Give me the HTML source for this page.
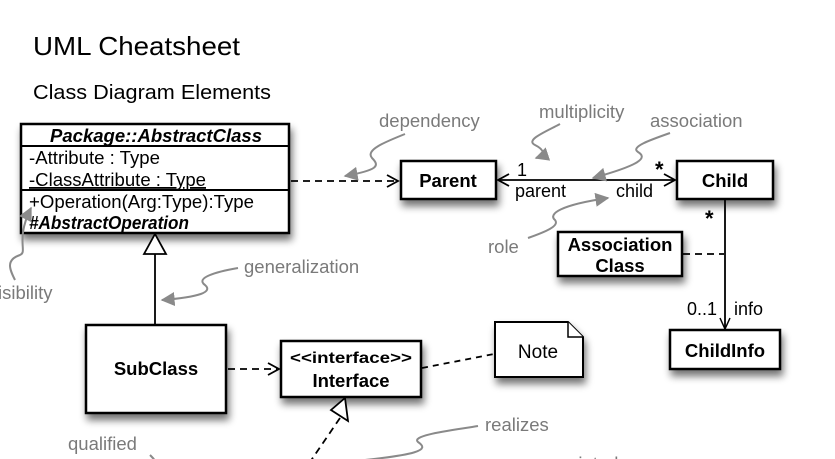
<!DOCTYPE html>
<html><head><meta charset="utf-8"><style>
html,body{margin:0;padding:0;background:#fff;width:835px;height:459px;overflow:hidden}
svg{display:block}
text{font-family:"Liberation Sans",Arial,sans-serif}
.g{fill:#7a7a7a;font-size:18.5px}
.b{font-weight:bold;font-size:18.5px;fill:#000}
.n{font-size:18px;fill:#000}
.box{fill:#fff;stroke:#000;stroke-width:2.5}
.sq{fill:none;stroke:#8a8a8a;stroke-width:2}
</style></head><body>
<svg width="835" height="459" viewBox="0 0 835 459" xmlns="http://www.w3.org/2000/svg">
<defs>
<filter id="sh" x="-20%" y="-20%" width="150%" height="160%">
<feGaussianBlur in="SourceAlpha" stdDeviation="4"/>
<feOffset dx="2" dy="6" result="o"/>
<feComponentTransfer><feFuncA type="linear" slope="0.55"/></feComponentTransfer>
<feMerge><feMergeNode/><feMergeNode in="SourceGraphic"/></feMerge>
</filter>
<marker id="ga" viewBox="0 0 10 10" refX="9" refY="5" markerWidth="7" markerHeight="7" orient="auto"><path d="M0,0 L10,5 L0,10 z" fill="#8a8a8a"/></marker>
</defs>
<rect width="835" height="459" fill="#fff"/>
<text x="33" y="55" font-size="26" textLength="207" lengthAdjust="spacingAndGlyphs">UML Cheatsheet</text>
<text x="33" y="99" font-size="20" textLength="238" lengthAdjust="spacingAndGlyphs">Class Diagram Elements</text>

<!-- Abstract class -->
<g filter="url(#sh)">
<rect class="box" x="21" y="124" width="268" height="109"/>
</g>
<line x1="21" y1="146" x2="289" y2="146" stroke="#000" stroke-width="2"/>
<line x1="21" y1="190" x2="289" y2="190" stroke="#000" stroke-width="2"/>
<text x="156" y="142" text-anchor="middle" font-size="18" font-weight="bold" font-style="italic" textLength="212" lengthAdjust="spacingAndGlyphs">Package::AbstractClass</text>
<text x="29" y="164" class="n" textLength="131" lengthAdjust="spacingAndGlyphs">-Attribute : Type</text>
<text x="29" y="186" class="n" text-decoration="underline" textLength="177" lengthAdjust="spacingAndGlyphs">-ClassAttribute : Type</text>
<text x="29" y="208" class="n" textLength="225" lengthAdjust="spacingAndGlyphs">+Operation(Arg:Type):Type</text>
<text x="29" y="229" class="n" font-style="italic" font-weight="bold" textLength="160" lengthAdjust="spacingAndGlyphs">#AbstractOperation</text>

<!-- dependency -->
<line x1="291" y1="181" x2="397" y2="181" stroke="#000" stroke-width="1.8" stroke-dasharray="7,5"/>
<path d="M387,175 L398,181 L387,187" fill="none" stroke="#000" stroke-width="1.8"/>

<!-- Parent / Child -->
<g filter="url(#sh)"><rect class="box" x="401" y="161" width="95" height="38"/></g>
<text x="448" y="187" text-anchor="middle" class="b">Parent</text>
<g filter="url(#sh)"><rect class="box" x="677" y="161" width="96" height="38"/></g>
<text x="725" y="187" text-anchor="middle" class="b">Child</text>
<line x1="498" y1="180" x2="675" y2="180" stroke="#000" stroke-width="1.8"/>
<path d="M509,174 L498,180 L509,186" fill="none" stroke="#000" stroke-width="1.8"/>
<path d="M664,174 L675,180 L664,186" fill="none" stroke="#000" stroke-width="1.8"/>
<text x="517" y="176" class="n">1</text>
<text x="515" y="197" class="n">parent</text>
<text x="616" y="197" class="n">child</text>
<text x="655" y="177" font-size="22" font-weight="bold">*</text>

<!-- Association class -->
<g filter="url(#sh)"><rect class="box" x="558" y="232" width="124" height="44"/></g>
<text x="620" y="251" text-anchor="middle" class="b">Association</text>
<text x="620" y="272" text-anchor="middle" class="b">Class</text>
<line x1="683" y1="254" x2="724" y2="254" stroke="#000" stroke-width="1.8" stroke-dasharray="7,5"/>

<!-- Child -> ChildInfo -->
<line x1="725" y1="200" x2="725" y2="329" stroke="#000" stroke-width="1.8"/>
<path d="M720,318 L725,329 L730,318" fill="none" stroke="#000" stroke-width="1.5"/>
<text x="705" y="226" font-size="22" font-weight="bold">*</text>
<text x="687" y="315" class="n">0..1</text>
<text x="734" y="315" class="n">info</text>
<g filter="url(#sh)"><rect class="box" x="670" y="330" width="110" height="39"/></g>
<text x="725" y="357" text-anchor="middle" class="b">ChildInfo</text>

<!-- generalization -->
<line x1="155" y1="254" x2="155" y2="325" stroke="#000" stroke-width="1.8"/>
<path d="M144,254 L155,234 L166,254 z" fill="#fff" stroke="#000" stroke-width="1.8"/>

<!-- SubClass -->
<g filter="url(#sh)"><rect class="box" x="86" y="325" width="140" height="88"/></g>
<text x="156" y="375" text-anchor="middle" class="b">SubClass</text>
<line x1="228" y1="369" x2="277" y2="369" stroke="#000" stroke-width="1.8" stroke-dasharray="7,5"/>
<path d="M268,363 L279,369 L268,375" fill="none" stroke="#000" stroke-width="1.8"/>

<!-- Interface -->
<g filter="url(#sh)"><rect class="box" x="281" y="341" width="140" height="56"/></g>
<text x="351" y="363" text-anchor="middle" font-size="16" font-weight="bold" textLength="122" lengthAdjust="spacingAndGlyphs">&lt;&lt;interface&gt;&gt;</text>
<text x="351" y="387" text-anchor="middle" class="b">Interface</text>
<line x1="422" y1="368" x2="494" y2="354" stroke="#000" stroke-width="1.8" stroke-dasharray="6,5"/>

<!-- Note -->
<g filter="url(#sh)"><path d="M495,322 L568,322 L583,337 L583,377 L495,377 z" fill="#fff" stroke="#000" stroke-width="2"/></g>
<path d="M568,322 L568,337 L583,337" fill="#fff" stroke="#000" stroke-width="1.5"/>
<text x="538" y="358" text-anchor="middle" font-size="19">Note</text>

<!-- realization -->
<line x1="340" y1="418" x2="310" y2="462" stroke="#000" stroke-width="1.8" stroke-dasharray="7,5"/>
<path d="M331,410 L345,398 L348,421 z" fill="#fff" stroke="#000" stroke-width="1.8"/>

<!-- annotations -->
<text x="379" y="127" class="g">dependency</text>
<path class="sq" d="M405,134 C385,142 365,150 372,158 C380,166 378,170 345,176" marker-end="url(#ga)"/>
<text x="539" y="118" class="g">multiplicity</text>
<path class="sq" d="M560,124 C545,132 525,140 535,145 C545,150 545,155 536,158" marker-end="url(#ga)"/>
<text x="650" y="127" class="g">association</text>
<path class="sq" d="M670,133 C650,140 630,147 638,152 C648,158 640,165 593,178" marker-end="url(#ga)"/>
<text x="488" y="253" class="g">role</text>
<path class="sq" d="M528,238 C545,232 560,226 555,220 C548,214 560,205 608,198" marker-end="url(#ga)"/>
<text x="244" y="273" class="g">generalization</text>
<path class="sq" d="M238,268 C215,272 195,278 205,285 C213,292 200,297 162,300" marker-end="url(#ga)"/>
<text x="-2" y="299" class="g">isibility</text>
<path class="sq" d="M15,280 C10,270 5,260 20,255 C28,252 15,240 31,208" marker-end="url(#ga)"/>
<text x="68" y="450" class="g">qualified</text>
<path class="sq" d="M150,455 C153,458 155,460 155,462"/>
<text x="485" y="431" class="g">realizes</text>
<path class="sq" d="M478,426 C455,430 410,435 418,442 C430,450 420,455 345,462"/>
<text x="530" y="470" class="g">associated</text>
</svg>
</body></html>
